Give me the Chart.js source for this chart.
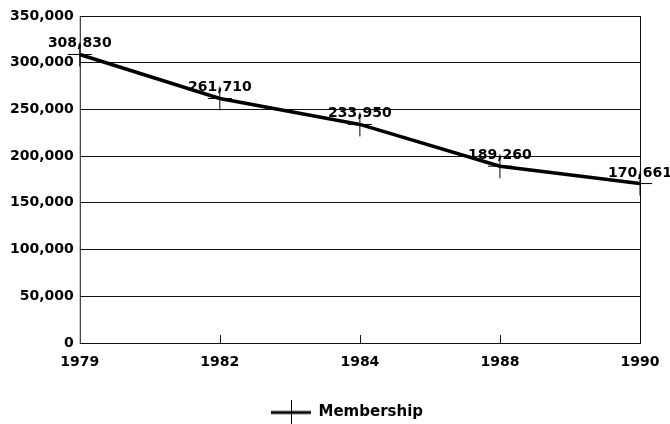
<!DOCTYPE html>
<html>
<head>
<meta charset="utf-8">
<script src="https://cdn.jsdelivr.net/npm/chart.js@4.4.1/dist/chart.umd.min.js"></script>
<style>
  html, body { margin: 0; padding: 0; background: #fff; }
  #wrap { width: 670px; height: 424px; }
</style>
</head>
<body>
<div id="wrap"><canvas id="grafico"></canvas></div>
<script>
// datos
const anios = ['1979', '1982', '1984', '1988', '1990']
const miembros = [308830, 261710, 233950, 189260, 170661]
const etiquetaSerie = 'Membership'
const ejeYMax = 350000
const ejeYPaso = 50000

const fuente = 'DejaVu Sans'

// simbolo de la leyenda: linea gruesa con una cruz
function simboloLeyenda() {
  const c = document.createElement('canvas')
  c.width = 40
  c.height = 26
  const g = c.getContext('2d')
  g.strokeStyle = '#000'
  g.lineWidth = 3
  g.beginPath()
  g.moveTo(0, 13)
  g.lineTo(40, 13)
  g.stroke()
  g.lineWidth = 1
  g.beginPath()
  g.moveTo(20.5, 0)
  g.lineTo(20.5, 26)
  g.stroke()
  return c
}

// plugin para las etiquetas de valores, el marco del area y mover la leyenda
const extras = {
  id: 'extras',
  afterLayout(chart) {
    const l = chart.legend
    if (!l) return
    l.left += 25
    l.right += 25
    l.top += 10
    l.bottom += 10
  },
  beforeDatasetsDraw(chart) {
    const { ctx, chartArea: a, scales } = chart
    ctx.save()
    ctx.strokeStyle = '#111'
    ctx.lineWidth = 1
    ctx.strokeRect(a.left + 0.5, a.top + 0.5, a.right - a.left, a.bottom - a.top)
    // marcas hacia dentro en el eje x
    ctx.beginPath()
    for (let i = 1; i < anios.length - 1; i++) {
      const x = Math.round(scales.x.getPixelForValue(i)) + 0.5
      ctx.moveTo(x, a.bottom)
      ctx.lineTo(x, a.bottom - 8)
    }
    ctx.stroke()
    ctx.restore()
  },
  afterDatasetsDraw(chart) {
    const { ctx } = chart
    const meta = chart.getDatasetMeta(0)
    ctx.save()
    ctx.fillStyle = '#000'
    ctx.font = 'bold 14px "' + fuente + '"'
    ctx.textAlign = 'center'
    ctx.textBaseline = 'alphabetic'
    meta.data.forEach(function (p, i) {
      ctx.fillText(miembros[i].toLocaleString('en-US'), p.x, p.y - 7)
    })
    ctx.restore()
  }
}

new Chart(document.getElementById('grafico'), {
  type: 'line',
  data: {
    labels: anios,
    datasets: [{
      label: etiquetaSerie,
      data: miembros,
      borderColor: '#000',
      borderWidth: 3.5,
      tension: 0,
      pointStyle: 'cross',
      pointRadius: 12,
      pointBorderWidth: 1,
      pointBorderColor: '#000',
      fill: false
    }]
  },
  options: {
    responsive: true,
    maintainAspectRatio: false,
    animation: false,
    layout: { padding: { left: 4, right: 30, top: 16, bottom: 4 } },
    scales: {
      x: {
        offset: false,
        grid: { display: false },
        border: { display: false },
        afterFit: function (s) { s.height = 42 },
        ticks: {
          color: '#000',
          padding: 3,
          maxRotation: 0,
          font: { family: fuente, size: 14, weight: 'bold' }
        }
      },
      y: {
        min: 0,
        max: ejeYMax,
        grid: { color: '#111', lineWidth: 1, drawTicks: false },
        border: { display: false },
        ticks: {
          stepSize: ejeYPaso,
          color: '#000',
          padding: 6,
          font: { family: fuente, size: 14, weight: 'bold' },
          callback: function (v) { return v.toLocaleString('en-US') }
        }
      }
    },
    plugins: {
      tooltip: { enabled: false },
      legend: {
        position: 'bottom',
        labels: {
          color: '#000',
          font: { family: fuente, size: 15, weight: 'bold' },
          usePointStyle: true,
          pointStyleWidth: 40,
          padding: 10,
          generateLabels: function () {
            return [{
              text: etiquetaSerie,
              pointStyle: simboloLeyenda(),
              fontColor: '#000',
              strokeStyle: '#000',
              fillStyle: '#000',
              lineWidth: 0,
              datasetIndex: 0
            }]
          }
        }
      }
    }
  },
  plugins: [extras]
})
</script>
</body>
</html>
